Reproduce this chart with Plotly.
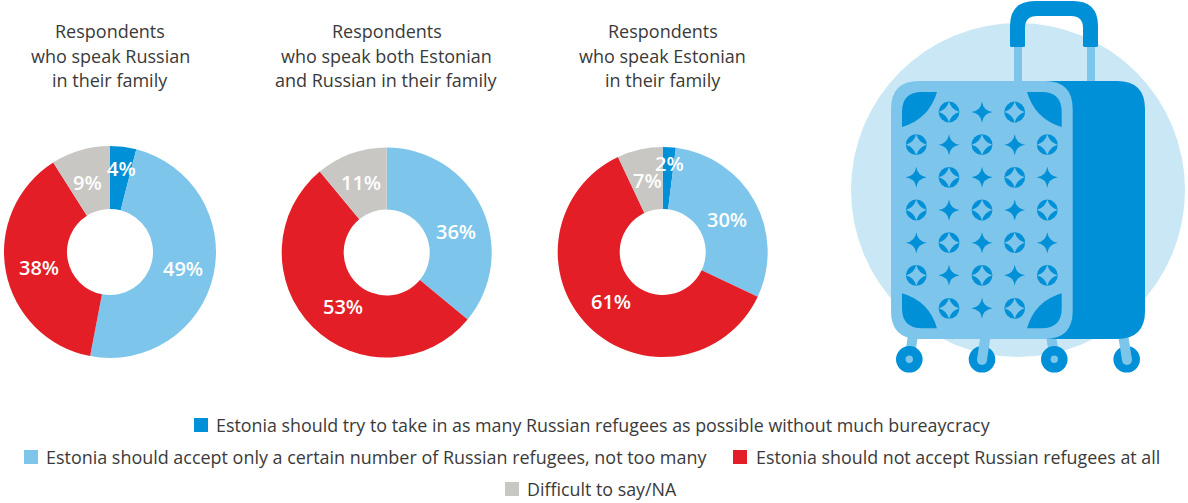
import plotly.graph_objects as go

W, H = 1188, 503

# Survey shares, in percent
categories = [
    "Estonia should try to take in as many Russian refugees as possible without much bureaycracy",
    "Estonia should accept only a certain number of Russian refugees, not too many",
    "Estonia should not accept Russian refugees at all",
    "Difficult to say/NA",
]
russian_speakers = [4, 49, 38, 9]
bilingual_speakers = [0, 36, 53, 11]
estonian_speakers = [2, 30, 61, 7]

title_russian = ["Respondents", "who speak Russian", "in their family"]
title_bilingual = ["Respondents", "who speak both Estonian", "and Russian in their family"]
title_estonian = ["Respondents", "who speak Estonian", "in their family"]

DARK_BLUE = "#0090D7"
LIGHT_BLUE = "#7DC5EA"
RED = "#E31E26"
GREY = "#C9C7C3"
PALE_BLUE = "#CAE7F6"
TEXT = "#3A3A3A"
colors = [DARK_BLUE, LIGHT_BLUE, RED, GREY]
FONT = "Open Sans"

# Donut layout: centre x, centre y, outer radius, label anchors per slice
donuts = [
    (russian_speakers, title_russian, 110, 252, 106, 110,
     [(121, 168), (183, 268), (39, 267), (87, 182)]),
    (bilingual_speakers, title_bilingual, 386.7, 252.5, 105, 386.5,
     [None, (456, 231), (343, 306), (361, 182)]),
    (estonian_speakers, title_estonian, 662.7, 252, 105, 662.7,
     [(669, 163), (727, 219), (611, 301), (647, 180)]),
]

fig = go.Figure()
annotations = []
shapes = []


def label(x, y, text, size=18, color=TEXT, weight=400, anchor="center"):
    annotations.append(dict(
        x=x, y=y, xref="x", yref="y", text=text,
        showarrow=False, xanchor=anchor, yanchor="middle", borderpad=0,
        font=dict(family=FONT, size=size, color=color, weight=weight),
    ))


def shape_path(path, color):
    shapes.append(dict(type="path", path=path, xref="x", yref="y",
                       fillcolor=color, line=dict(width=0), layer="above"))


def circle(cx, cy, r, color):
    shapes.append(dict(type="circle", xref="x", yref="y", x0=cx - r, x1=cx + r,
                       y0=cy - r, y1=cy + r, fillcolor=color,
                       line=dict(width=0), layer="above"))


def rounded(x0, y0, x1, y1, r, color):
    shape_path(f"M{x0 + r},{y0} L{x1 - r},{y0} Q{x1},{y0} {x1},{y0 + r} "
               f"L{x1},{y1 - r} Q{x1},{y1} {x1 - r},{y1} L{x0 + r},{y1} "
               f"Q{x0},{y1} {x0},{y1 - r} L{x0},{y0 + r} Q{x0},{y0} {x0 + r},{y0} Z",
               color)


def star(cx, cy, r, pinch, color):
    k = r * pinch
    shape_path(f"M{cx},{cy - r} Q{cx + k},{cy - k} {cx + r},{cy} "
               f"Q{cx + k},{cy + k} {cx},{cy + r} "
               f"Q{cx - k},{cy + k} {cx - r},{cy} "
               f"Q{cx - k},{cy - k} {cx},{cy - r} Z", color)


# Donut charts, title lines and slice labels
for values, title, cx, cy, r, tx, anchors in donuts:
    fig.add_trace(go.Pie(
        labels=categories, values=values, sort=False, direction="clockwise",
        rotation=0, hole=43 / r, textinfo="none", hoverinfo="label+percent",
        marker=dict(colors=colors, line=dict(width=0)), showlegend=False,
        domain=dict(x=[(cx - r) / W, (cx + r) / W],
                    y=[1 - (cy + r) / H, 1 - (cy - r) / H]),
    ))
    for i, line in enumerate(title):
        label(tx, 31 + i * 24.5, line)
    for value, pos in zip(values, anchors):
        if pos is not None:
            label(pos[0], pos[1], f"{value}%", size=20, color="white", weight=600)

# Legend rows: swatch x, swatch top, text x, row centre, text size
legend_rows = [(194, 418, 215.4, 425, 17.85), (24, 450, 45.4, 457, 17.95),
               (733, 450, 755, 457, 17.85), (505, 482, 526.4, 489, 17.85)]
for color, name, (sx, sy, tx, ty, ts) in zip(colors, categories, legend_rows):
    shapes.append(dict(type="rect", xref="x", yref="y", x0=sx, x1=sx + 14, y0=sy, y1=sy + 14,
                       fillcolor=color, line=dict(width=0), layer="above"))
    label(tx, ty, name, size=ts, anchor="left")

# Suitcase illustration
circle(1018, 190, 167, PALE_BLUE)
# telescopic poles and handle
shape_path("M1014,45 L1022,45 L1022,85 L1014,85 Z", LIGHT_BLUE)
shape_path("M1087,45 L1095,45 L1095,85 L1087,85 Z", LIGHT_BLUE)
shape_path("M1010,46 L1010,26 Q1010,1 1035,1 L1073,1 Q1098,1 1098,26 L1098,46 Q1098,47 1096,47 "
           "L1085,47 Q1083,47 1083,46 L1083,28 Q1083,16 1071,16 L1037,16 Q1025,16 1025,28 L1025,46 "
           "Q1025,47 1023,47 L1012,47 Q1010,47 1010,46 Z", DARK_BLUE)
# rear legs sit behind the wheels on 1 and 3
shape_path("M908,335 L918,335 L914,362 L904,362 Z", LIGHT_BLUE)
shape_path("M1046,335 L1056,335 L1060,362 L1050,362 Z", LIGHT_BLUE)
for wx in (909.3, 982, 1054.3, 1126.7):
    circle(wx, 359.3, 13.3, DARK_BLUE)
circle(909.3, 359.3, 3.7, LIGHT_BLUE)
circle(1054.3, 359.3, 3.7, LIGHT_BLUE)
# front legs run over wheels 2 and 4 with rounded feet
shape_path("M980.5,335 L990.7,335 L987,360 L977,360 Z", LIGHT_BLUE)
circle(982, 360, 5, LIGHT_BLUE)
shape_path("M1118,335 L1128.2,335 L1132,360 L1122,360 Z", LIGHT_BLUE)
circle(1127, 360, 5, LIGHT_BLUE)
# shell
rounded(987, 81, 1145, 339, 28, DARK_BLUE)
rounded(891, 81, 1072.7, 339, 28, LIGHT_BLUE)
# corner guards
shape_path("M902,127 L902,112 Q902,92 922,92 L937,92 Q929,119 902,127 Z", DARK_BLUE)
shape_path("M1061.7,127 L1061.7,112 Q1061.7,92 1041.7,92 L1027,92 Q1035,119 1061.7,127 Z", DARK_BLUE)
shape_path("M902,293.3 L902,308.3 Q902,328.3 922,328.3 L937,328.3 Q929,301 902,293.3 Z", DARK_BLUE)
shape_path("M1061.7,293.3 L1061.7,308.3 Q1061.7,328.3 1041.7,328.3 L1027,328.3 Q1035,301 1061.7,293.3 Z", DARK_BLUE)

# Studded pattern on the front panel: c = ringed star, s = plain star, . = empty
pattern = [".csc.", "cscsc", "scscs", "cscsc", "scscs", "cscsc", ".csc."]
col_x = [916.3, 949, 982, 1014.7, 1047.3]
row_y = [112, 144.7, 177.3, 210, 242.7, 275.3, 308.3]
for y, row in zip(row_y, pattern):
    for x, kind in zip(col_x, row):
        if kind == "s":
            star(x, y, 10.5, 0.12, DARK_BLUE)
        elif kind == "c":
            circle(x, y, 10.4, DARK_BLUE)
            star(x, y, 10.4, 0.22, LIGHT_BLUE)

# Invisible pixel-scaled axes carry the annotations and drawn shapes
fig.add_trace(go.Scatter(x=[0, W], y=[0, H], mode="none", hoverinfo="skip", showlegend=False))

fig.update_layout(
    width=W, height=H, margin=dict(l=0, r=0, t=0, b=0),
    paper_bgcolor="white", plot_bgcolor="white",
    xaxis=dict(range=[0, W], visible=False, fixedrange=True, domain=[0, 1]),
    yaxis=dict(range=[H, 0], visible=False, fixedrange=True, domain=[0, 1]),
    annotations=annotations, shapes=shapes, showlegend=False,
)
fig.write_html("out.html", config={"displayModeBar": False})
